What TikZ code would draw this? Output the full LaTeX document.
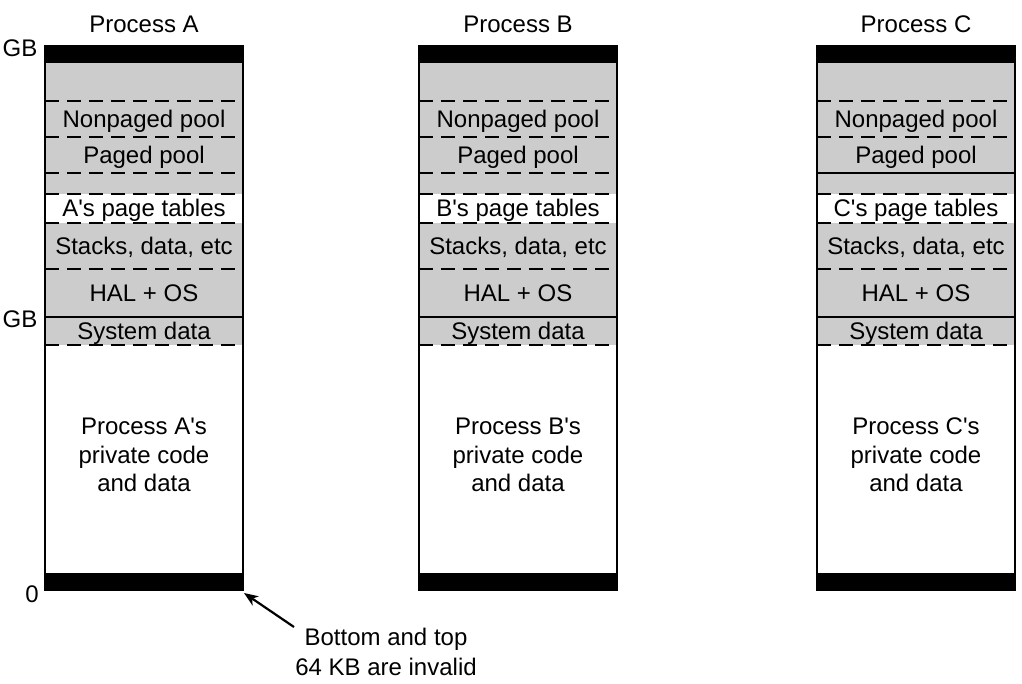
\documentclass[tikz,border=0pt]{standalone}
\usepackage{fontspec}
\setmainfont{Liberation Sans}[Ligatures=TeXOff]
\usetikzlibrary{arrows.meta}
\definecolor{bandgray}{HTML}{CCCCCC}
\begin{document}
\begin{tikzpicture}[x=1pt,y=-1pt,
  lbl/.style={font=\fontsize{24}{28.5}\selectfont, inner sep=0pt, anchor=base},
  dline/.style={line width=1.3pt, dash pattern=on 14pt off 8pt},
  sline/.style={line width=1.6pt},
  side/.style={line width=2pt},
  bar/.style={fill=black},
  band/.style={fill=bandgray},
  arr/.style={line width=2.2pt, -{Stealth[length=14pt,width=11pt,inset=4pt]}}]
\useasboundingbox (0,0) rectangle (1022,684);
\foreach \x/\l/\st in {45/A/dline,419/B/dline,817/C/sline}{
  \fill[band] (\x,63) rectangle ++(198,282);
  \fill[white] (\x,194) rectangle ++(198,29);
  \foreach \yy in {101,137,194,223,269,345} \draw[dline] (\x,\yy) -- ++(198,0);
  \draw[\st] (\x,173) -- ++(198,0);
  \draw[sline] (\x,317) -- ++(198,0);
  \fill[bar] (\x,45) rectangle ++(198,18);
  \fill[bar] (\x,573) rectangle ++(198,18);
  \draw[side] (\x,45) -- (\x,591) (\x+198,45) -- (\x+198,591);
  \node[lbl] (title\l) at (\x+99,33) {Process \l};
  \node[lbl] (np\l) at (\x+99,128) {Nonpaged pool};
  \node[lbl] (pp\l) at (\x+99,164) {Paged pool};
  \node[lbl] (pt\l) at (\x+99,217) {\l's page tables};
  \node[lbl] (st\l) at (\x+99,255) {Stacks, data, etc};
  \node[lbl] (hal\l) at (\x+99,301.5) {HAL + OS};
  \node[lbl] (sys\l) at (\x+99,339.5) {System data};
  \node[lbl, anchor=center, align=center] (priv\l) at (\x+99,455) {Process \l's\\private code\\and data};
}
\node[lbl] (gbtop) at (20,57) {GB};
\node[lbl] (gbmid) at (20,327) {GB};
\node[lbl] (zero) at (32,602) {0};
\node[lbl, anchor=center, align=center, font=\fontsize{24}{30}\selectfont] (note) at (386,652) {Bottom and top\\64 KB are invalid};
\coordinate (tip) at (244,593);
\coordinate (tail) at (294,627);
\draw[arr] (tail) -- (tip);
\end{tikzpicture}
\end{document}
